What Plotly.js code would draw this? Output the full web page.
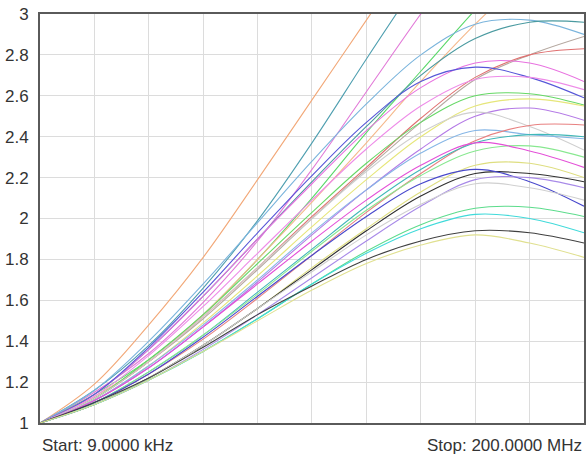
<!DOCTYPE html>
<html>
<head>
<meta charset="utf-8">
<script src="https://cdn.plot.ly/plotly-3.0.1.min.js"></script>
<style>
html,body{margin:0;padding:0;background:#fff;}
#chart{width:587px;height:456px;}
</style>
</head>
<body>
<div id="chart"></div>
<script>
// Sweep points (MHz), start 9 kHz, stop 200 MHz
const freqMHz = [0.009, 20, 40, 60, 80, 100, 120, 140, 160, 180, 200];

// Traces (the steepest ones leave the top of the 1..3 display)
const orange1   = [1, 1.19, 1.48, 1.81, 2.19, 2.58, 2.97, 3.36, null, null, null];
const teal1     = [1, 1.16, 1.38, 1.66, 1.99, 2.37, 2.78, 3.18, null, null, null];
const magenta1  = [1, 1.15, 1.34, 1.59, 1.89, 2.24, 2.62, 3.0, 3.36, null, null];
const green1    = [1, 1.14, 1.31, 1.53, 1.80, 2.10, 2.42, 2.72, 3.02, 3.3, null];
const orange2   = [1, 1.13, 1.30, 1.53, 1.80, 2.08, 2.37, 2.67, 2.95, 3.2, null];
const ltblue1   = [1, 1.16, 1.40, 1.68, 1.98, 2.28, 2.56, 2.80, 2.95, 2.97, 2.90];
const teal2     = [1, 1.14, 1.36, 1.62, 1.90, 2.18, 2.45, 2.70, 2.88, 2.96, 2.96];
const grey1     = [1, 1.12, 1.30, 1.51, 1.75, 2.00, 2.24, 2.47, 2.68, 2.80, 2.89];
const red1      = [1, 1.12, 1.30, 1.52, 1.76, 2.01, 2.25, 2.49, 2.69, 2.80, 2.83];
const pink1     = [1, 1.14, 1.36, 1.62, 1.90, 2.17, 2.43, 2.64, 2.76, 2.76, 2.67];
const blue1     = [1, 1.14, 1.37, 1.64, 1.93, 2.21, 2.47, 2.67, 2.74, 2.69, 2.59];
const pink2     = [1, 1.13, 1.33, 1.57, 1.83, 2.09, 2.34, 2.55, 2.68, 2.69, 2.63];
const green2    = [1, 1.12, 1.31, 1.53, 1.78, 2.03, 2.27, 2.47, 2.60, 2.61, 2.555];
const yellow1   = [1, 1.11, 1.28, 1.49, 1.72, 1.96, 2.19, 2.40, 2.55, 2.585, 2.55];
const violet1   = [1, 1.11, 1.27, 1.47, 1.69, 1.92, 2.14, 2.34, 2.50, 2.54, 2.48];
const ltgrey1   = [1, 1.12, 1.30, 1.52, 1.76, 2.00, 2.23, 2.42, 2.52, 2.45, 2.335];
const ltblue2   = [1, 1.11, 1.28, 1.48, 1.70, 1.93, 2.14, 2.32, 2.43, 2.41, 2.39];
const red2      = [1, 1.10, 1.24, 1.41, 1.61, 1.82, 2.03, 2.22, 2.38, 2.455, 2.457];
const teal3     = [1, 1.10, 1.25, 1.43, 1.64, 1.85, 2.06, 2.24, 2.37, 2.41, 2.40];
const green3    = [1, 1.10, 1.25, 1.43, 1.63, 1.84, 2.04, 2.21, 2.33, 2.355, 2.30];
const magenta2  = [1, 1.11, 1.27, 1.47, 1.68, 1.89, 2.09, 2.26, 2.37, 2.33, 2.25];
const yellow2   = [1, 1.09, 1.22, 1.38, 1.56, 1.76, 1.95, 2.13, 2.26, 2.27, 2.20];
const black1    = [1, 1.09, 1.22, 1.38, 1.56, 1.75, 1.94, 2.11, 2.22, 2.22, 2.18];
const blue2     = [1, 1.10, 1.24, 1.42, 1.62, 1.82, 2.01, 2.17, 2.24, 2.18, 2.06];
const violet2   = [1, 1.09, 1.21, 1.36, 1.53, 1.71, 1.89, 2.06, 2.19, 2.20, 2.15];
const ltgrey2   = [1, 1.09, 1.22, 1.38, 1.56, 1.74, 1.92, 2.07, 2.17, 2.15, 2.09];
const green4    = [1, 1.09, 1.21, 1.35, 1.51, 1.68, 1.84, 1.97, 2.05, 2.055, 2.01];
const cyan1     = [1, 1.09, 1.21, 1.35, 1.51, 1.68, 1.83, 1.95, 2.02, 2.00, 1.93];
const black2    = [1, 1.10, 1.22, 1.37, 1.53, 1.67, 1.80, 1.89, 1.94, 1.93, 1.88];
const yellow3   = [1, 1.09, 1.21, 1.35, 1.50, 1.65, 1.78, 1.87, 1.92, 1.88, 1.81];

const seriesList = [
  [orange1, '#f2a878'], [teal1, '#4f9fb0'], [magenta1, '#e27ad8'], [green1, '#5ad86a'],
  [orange2, '#f5b98c'], [ltblue1, '#7ab4dc'], [teal2, '#4a9aa0'], [grey1, '#b5a8a0'],
  [red1, '#e07070'], [pink1, '#e872e0'], [blue1, '#5656d8'], [pink2, '#ee8ce8'],
  [green2, '#66d866'], [yellow1, '#e6e67a'], [violet1, '#b47ae6'], [ltgrey1, '#cfcfcf'],
  [ltblue2, '#86b6e6'], [red2, '#e88080'], [teal3, '#40b8b8'], [green3, '#88e890'],
  [magenta2, '#e450d8'], [yellow2, '#dede80'], [black1, '#303030'], [blue2, '#4848cc'],
  [violet2, '#a88ae8'], [ltgrey2, '#d0d0d0'], [green4, '#5cdc8c'], [cyan1, '#40dada'],
  [black2, '#404040'], [yellow3, '#e0e090']
];

const traces = seriesList.map(([vals, color]) => ({
  type: 'scatter', mode: 'lines', x: freqMHz, y: vals,
  line: {color: color, width: 1.1, shape: 'spline', smoothing: 1},
  connectgaps: false, hoverinfo: 'skip', showlegend: false
}));

const layout = {
  width: 587, height: 456,
  margin: {l: 40, r: 3, t: 14, b: 33},
  paper_bgcolor: '#ffffff', plot_bgcolor: '#ffffff',
  font: {family: 'Liberation Sans, Arial, sans-serif', color: '#333333', size: 17},
  showlegend: false,
  xaxis: {
    range: [0.009, 200], tick0: 0, dtick: 20, showticklabels: false,
    showgrid: true, gridcolor: '#dcdcdc', gridwidth: 1, zeroline: false,
    showline: true, linecolor: '#5a5a5a', linewidth: 2, mirror: true, ticks: ''
  },
  yaxis: {
    range: [1, 3], tick0: 1, dtick: 0.2,
    showgrid: true, gridcolor: '#dcdcdc', gridwidth: 1, zeroline: false,
    showline: true, linecolor: '#5a5a5a', linewidth: 2, mirror: true,
    ticks: 'outside', ticklen: 6, tickcolor: 'rgba(0,0,0,0)',
    tickfont: {size: 17, color: '#333333'}
  },
  annotations: [
    {text: 'Start: 9.0000 kHz', xref: 'paper', yref: 'paper', x: 0, y: 0,
     xanchor: 'left', yanchor: 'top', yshift: -11, showarrow: false,
     font: {size: 17, color: '#333333'}},
    {text: 'Stop: 200.0000 MHz', xref: 'paper', yref: 'paper', x: 1, y: 0,
     xanchor: 'right', yanchor: 'top', yshift: -11, showarrow: false,
     font: {size: 17, color: '#333333'}}
  ]
};

Plotly.newPlot('chart', traces, layout, {displayModeBar: false, staticPlot: true});
</script>
</body>
</html>
